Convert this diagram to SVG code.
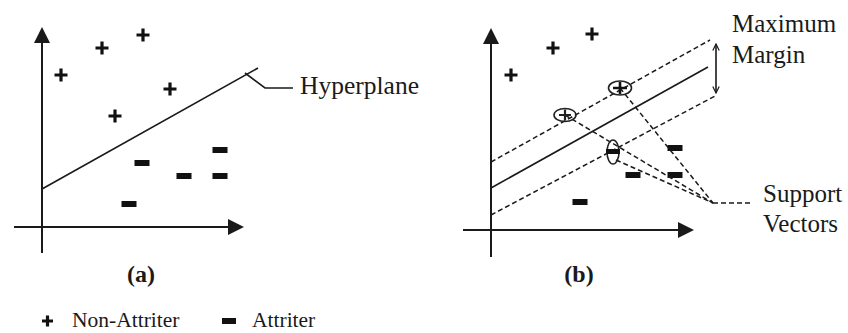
<svg xmlns="http://www.w3.org/2000/svg" width="848" height="333" viewBox="0 0 848 333">
<defs>
<style>
.ax{stroke:#1a1a1a;stroke-width:2;fill:none}
.ah{fill:#1a1a1a}
.ln{stroke:#1a1a1a;stroke-width:1.6;fill:none}
.ds{stroke:#1a1a1a;stroke-width:1.5;fill:none;stroke-dasharray:5 3}
.t{font-family:"Liberation Serif","Times New Roman",serif;fill:#1a1a1a}
.pl{stroke:#111;stroke-width:3.2;fill:none}
.sp{stroke:#222;stroke-width:1.6;fill:none}
.mi{fill:#111}
</style>
<g id="plus"><path class="pl" d="M-6.5 0H6.5M0 -6.5V6.5"/></g>
<g id="minus"><rect class="mi" x="-7.5" y="-3" width="15" height="6"/></g>
<marker id="oa" viewBox="0 0 10 10" refX="9" refY="5" markerWidth="8" markerHeight="8" orient="auto-start-reverse" markerUnits="userSpaceOnUse"><path d="M1 1L9 5L1 9" fill="none" stroke="#1a1a1a" stroke-width="1.5"/></marker>
</defs>
<rect width="848" height="333" fill="#fff"/>

<g id="panel-a">
<g id="axes-a">
<path class="ax" d="M42 253V40M14 227H230"/>
<path class="ah" d="M42 27L34 43H50Z"/>
<path class="ah" d="M244 227L228 219V235Z"/>
</g>
<g id="points-a">
<use href="#plus" x="61" y="75"/>
<use href="#plus" x="102" y="48"/>
<use href="#plus" x="143" y="35"/>
<use href="#plus" x="170" y="89"/>
<use href="#plus" x="115" y="116"/>
<use href="#minus" x="142" y="163"/>
<use href="#minus" x="220" y="150"/>
<use href="#minus" x="184" y="176"/>
<use href="#minus" x="220" y="176"/>
<use href="#minus" x="129" y="204"/>
</g>
<g id="hyperplane-a">
<path class="ln" d="M42 189L258 68"/>
<path class="ln" d="M245 73L265 88H293"/>
<text class="t" x="300" y="94" font-size="25.5">Hyperplane</text>
</g>
<text id="label-a" class="t" x="141" y="282" font-size="24" font-weight="bold" text-anchor="middle">(a)</text>
</g>

<g id="panel-b">
<g id="axes-b">
<path class="ax" d="M491 257V41M463 230H680"/>
<path class="ah" d="M491 28L483 44H499Z"/>
<path class="ah" d="M694 230L678 222V238Z"/>
</g>
<g id="points-b">
<use href="#plus" x="511" y="75"/>
<use href="#plus" x="553" y="48"/>
<use href="#plus" x="592" y="34"/>
<use href="#minus" x="675" y="148"/>
<use href="#minus" x="633" y="175"/>
<use href="#minus" x="675" y="175"/>
<use href="#minus" x="580" y="202"/>
</g>
<g id="margins-b">
<path class="ln" d="M491 188L708 67"/>
<path class="ds" d="M491 162L710 40"/>
<path class="ds" d="M491 215L717 95"/>
</g>
<g id="connectors">
<path class="ds" d="M565 115L713 203"/>
<path class="ds" d="M620 88L713 203"/>
<path class="ds" d="M616 160L713 203"/>
<path class="ds" d="M713 203H752"/>
<path class="ln" d="M716 44V93" marker-start="url(#oa)" marker-end="url(#oa)"/>
</g>
<g id="support-vectors">
<g id="sv1"><ellipse cx="565" cy="115" rx="11" ry="6.5" fill="#fff" class="sp"/><path d="M559 115H571M565 109.5V120.5" stroke="#222" stroke-width="2.2"/></g>
<g id="sv2"><ellipse cx="620" cy="88" rx="11.5" ry="7" fill="#fff" class="sp"/><path d="M613 88H627M620 82V94" stroke="#111" stroke-width="2.6"/></g>
<g id="sv3"><ellipse cx="613" cy="152" rx="6" ry="12" fill="#ddd" class="sp"/><rect x="606" y="149" width="14" height="5" fill="#111"/></g>
</g>
<g id="labels-b">
<text class="t" x="732" y="32" font-size="25">Maximum</text>
<text class="t" x="732" y="63" font-size="25">Margin</text>
<text class="t" x="763" y="202" font-size="25">Support</text>
<text class="t" x="763" y="232" font-size="25">Vectors</text>
</g>
<text id="label-b" class="t" x="579" y="282" font-size="24" font-weight="bold" text-anchor="middle">(b)</text>
</g>

<g id="legend">
<path class="pl" d="M42 321H53M47.5 315.5V326.5" stroke-width="3"/>
<text class="t" x="72" y="327" font-size="21.5">Non-Attriter</text>
<rect class="mi" x="222" y="318" width="14" height="6"/>
<text class="t" x="252" y="327" font-size="21.5">Attriter</text>
</g>
</svg>
